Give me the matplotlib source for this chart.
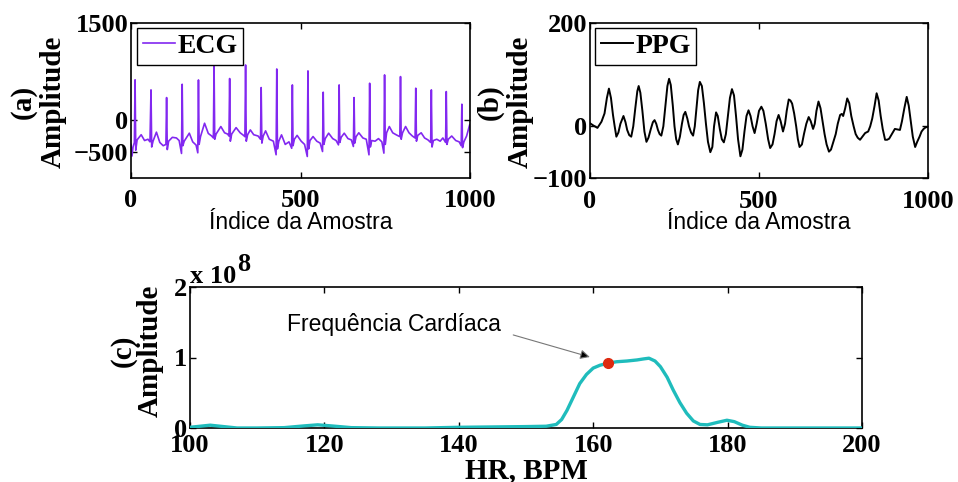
import matplotlib
matplotlib.use("Agg")
import matplotlib.pyplot as plt
import numpy as np

SERIF = "Liberation Serif"
SANS = "Liberation Sans"
plt.rcParams["font.family"] = [SERIF, "DejaVu Serif"]
plt.rcParams["font.weight"] = "bold"
plt.rcParams["axes.labelweight"] = "bold"

# ---------------- data ----------------
ecg_idx = [0, 3, 6, 10,
           12, 14, 18, 30, 40, 50, 56,
           59, 61, 65, 75, 85, 95, 103,
           105, 107, 111, 122, 134, 142, 149,
           151, 153, 157, 172, 182, 192, 197,
           199, 201, 205, 217, 228, 238, 243,
           245, 247, 251, 265, 276, 285, 289,
           291, 293, 297, 310, 322, 332, 336,
           338, 340, 344, 352, 362, 375, 382,
           384, 386, 390, 397, 408, 420, 428,
           430, 432, 436, 444, 455, 466, 474,
           476, 478, 482, 490, 502, 512, 520,
           522, 524, 528, 537, 548, 558, 565,
           567, 569, 573, 583, 595, 605, 612,
           614, 616, 620, 629, 640, 650, 656,
           658, 660, 664, 672, 684, 694, 702,
           704, 706, 710, 720, 730, 740, 746,
           748, 750, 754, 762, 772, 782, 793,
           795, 797, 801, 810, 820, 830, 838,
           840, 842, 846, 856, 866, 876, 884,
           886, 888, 892, 902, 912, 920, 928,
           930, 932, 936, 946, 958, 968, 974,
           976, 978, 982, 990, 999]
ecg_val = [-380, -560, -420, -350,
           620, -470, -310, -230, -320, -300, -340,
           464, -420, -330, -190, -350, -400, -380,
           345, -460, -330, -270, -280, -320, -520,
           551, -400, -330, -206, -340, -390, -510,
           618, -380, -260, -52, -210, -250, -280,
           850, -300, -220, -103, -200, -220, -250,
           640, -330, -220, -120, -200, -240, -260,
           850, -330, -230, -155, -230, -250, -300,
           500, -360, -250, -170, -300, -330, -540,
           788, -450, -330, -232, -380, -340, -440,
           541, -400, -300, -240, -330, -380, -567,
           758, -450, -320, -258, -330, -360, -490,
           428, -380, -290, -206, -290, -320, -387,
           541, -350, -270, -206, -290, -310, -412,
           345, -360, -260, -200, -280, -300, -541,
           567, -420, -320, -330, -290, -340, -515,
           696, -380, -200, -103, -200, -230, -260,
           670, -300, -200, -103, -200, -250, -280,
           490, -330, -240, -200, -280, -310, -350,
           464, -420, -320, -300, -330, -280, -350,
           438, -380, -300, -250, -320, -340, -400,
           242, -430, -340, -250, -77]

ppg_idx = [0, 9, 22, 34, 43, 50, 56, 62, 68, 73, 78, 84, 90, 99, 105, 110, 116, 122,
           128, 134, 140, 144, 149, 155, 161, 167, 173, 180, 186, 191, 196, 201, 206,
           211, 217, 223, 229, 234, 239, 245, 250, 255, 260, 266, 272, 277, 282, 288,
           293, 299, 305, 310, 315, 320, 325, 331, 337, 343, 349, 356, 362, 367, 373,
           378, 384, 390, 396, 402, 408, 414, 420, 426, 432, 438, 445, 451, 457, 463,
           469, 475, 481, 487, 493, 500, 507, 513, 520, 527, 533, 540, 546, 552, 558,
           564, 571, 577, 582, 588, 593, 598, 604, 610, 615, 620, 627, 633, 640, 647,
           653, 660, 665, 670, 676, 682, 688, 694, 700, 707, 713, 720, 727, 733, 740,
           745, 749, 755, 761, 767, 773, 780, 786, 792, 799, 806, 814, 823, 829, 835,
           842, 848, 854, 860, 866, 873, 879, 885, 893, 902, 910, 917, 923, 930, 937,
           943, 949, 955, 962, 968, 975, 981, 987, 993, 999]
ppg_val = [6, 2, -3, 9, 25, 55, 73, 55, 22, 0, -20, -12, 5, 20, 8, -7, -17, -20,
           0, 35, 68, 78, 65, 30, -10, -30, -22, -5, 8, 12, 5, -7, -15,
           -18, 0, 40, 78, 92, 80, 40, 0, -25, -35, -20, 5, 22, 28, 15,
           0, -12, -18, 0, 35, 70, 86, 78, 45, 5, -30, -50, -40, 0, 27,
           20, -5, -25, -31, -15, 20, 55, 72, 60, 20, -25, -58, -45, -10, 20,
           31, 20, 0, -13, 5, 30, 38, 30, 5, -25, -42, -35, -15, 10, 22,
           10, -10, 5, 30, 52, 50, 44, 25, 0, -25, -40, -35, -15, 5, 18,
           10, -5, 5, 30, 48, 35, 10, -15, -35, -49, -45, -30, -15, 5, 22,
           24, 20, 35, 54, 45, 20, 0, -15, -22, -26, -20, -13, -10, 0, 15,
           40, 64, 50, 20, -5, -26, -26, -24, -15, -5, -6, -7, 10, 35, 57,
           40, 10, -20, -40, -30, -20, -10, -5, -2, -1]

hr_bpm = [100, 101, 103, 105, 107, 110, 114, 117, 119, 121, 124, 128, 135, 140, 145,
          150, 153, 154.5, 155.3, 156.1, 157, 158, 159, 160, 161, 162.2, 163.5, 165,
          166.5, 167.5, 168.3, 169.2, 170, 171, 171.9, 172.9, 173.9, 174.9, 175.9,
          177, 178.5, 179.9, 181, 182.2, 183.3, 185, 190, 195, 200]
hr_amp_e8 = [0.01, 0.02, 0.04, 0.02, 0.0, 0.0, 0.005, 0.03, 0.045, 0.03, 0.005, 0.0,
             0.0, 0.01, 0.015, 0.02, 0.025, 0.05, 0.12, 0.25, 0.43, 0.63, 0.76, 0.85,
             0.89, 0.92, 0.94, 0.95, 0.965, 0.98, 0.99, 0.95, 0.87, 0.72, 0.54, 0.36,
             0.21, 0.10, 0.05, 0.045, 0.08, 0.11, 0.09, 0.04, 0.01, 0.0, 0.0, 0.0, 0.0]
hr_peak_bpm = 162.2
hr_peak_amp_e8 = 0.92
AMP_SCALE = 1e8

ecg_ticks = [0, 500, 1000]
ecg_yticks = [-500, 0, 1500]
ppg_yticks = [-100, 0, 200]
hr_xticks = [100, 120, 140, 160, 180, 200]
hr_yticks_e8 = [0, 1, 2]

# ---------------- figure ----------------
W, H = 958, 482
fig = plt.figure(figsize=(W / 100, H / 100), dpi=100)


def px_axes(l, t, r, b):
    return fig.add_axes([l / W, 1 - b / H, (r - l) / W, (b - t) / H])


def style(ax, xpad):
    for s in ax.spines.values():
        s.set_linewidth(1.2)
    ax.tick_params(direction="in", top=True, right=True, length=4, width=1,
                   labelsize=19)
    ax.tick_params(axis="x", pad=xpad)
    ax.tick_params(axis="y", pad=2)


# (a) ECG
axa = px_axes(131, 23, 470, 178)
axa.plot(ecg_idx, ecg_val, color="#8228f0", lw=1.2, label="ECG")
axa.set_xlim(0, 1000)
axa.set_ylim(-900, 1500)
axa.set_xticks(ecg_ticks)
axa.set_yticks(ecg_yticks)
style(axa, 8)
axa.set_ylabel("(a)\nAmplitude", fontsize=21, linespacing=1.15)
axa.yaxis.set_label_coords(-0.19, 0.49)
axa.set_xlabel("Índice da Amostra", fontsize=16.5, family=SANS, weight="normal",
               va="top")
axa.xaxis.set_label_coords(0.5, -0.215)
leg = axa.legend(loc="upper left", bbox_to_anchor=(0.018, 0.968), borderaxespad=0,
                 fancybox=False, edgecolor="black", framealpha=1,
                 handlelength=1.15, handletextpad=0.1, borderpad=0.2,
                 prop=dict(family=SERIF, weight="bold", size=20))
leg.get_frame().set_linewidth(1.0)

# (b) PPG
axb = px_axes(590, 23, 928, 178)
axb.plot(ppg_idx, ppg_val, color="black", lw=1.4, label="PPG")
axb.set_xlim(0, 1000)
axb.set_ylim(-100, 200)
axb.set_xticks(ecg_ticks)
axb.set_yticks(ppg_yticks)
style(axb, 9)
axb.set_ylabel("(b)\nAmplitude", fontsize=21, linespacing=1.15)
axb.yaxis.set_label_coords(-0.165, 0.49)
axb.set_xlabel("Índice da Amostra", fontsize=16.5, family=SANS, weight="normal",
               va="top")
axb.xaxis.set_label_coords(0.5, -0.215)
leg = axb.legend(loc="upper left", bbox_to_anchor=(0.015, 0.968), borderaxespad=0,
                 fancybox=False, edgecolor="black", framealpha=1,
                 handlelength=1.15, handletextpad=0.1, borderpad=0.2,
                 prop=dict(family=SERIF, weight="bold", size=20))
leg.get_frame().set_linewidth(1.0)

# (c) HR spectrum
axc = px_axes(190, 287, 862, 428)
hr_amp = np.array(hr_amp_e8) * AMP_SCALE
axc.plot(hr_bpm, hr_amp, color="#1fbcbc", lw=2.4, zorder=3)
axc.plot([hr_peak_bpm], [hr_peak_amp_e8 * AMP_SCALE], "o", color="#dd2a10",
         ms=7, zorder=4)
axc.set_xlim(100, 200)
axc.set_ylim(0, 2 * AMP_SCALE)
axc.set_xticks(hr_xticks)
axc.set_yticks([v * AMP_SCALE for v in hr_yticks_e8])
axc.set_yticklabels([str(v) for v in hr_yticks_e8])
style(axc, 4)
axc.set_ylabel("(c)\nAmplitude", fontsize=21, linespacing=1.0)
axc.yaxis.set_label_coords(-0.039, 0.55)
axc.set_xlabel("HR, BPM", fontsize=21, va="top")
axc.xaxis.set_label_coords(0.5, -0.205)

fig.text(190 / W, 1 - 283 / H, "x 10", fontsize=19, ha="left", va="baseline")
fig.text(237 / W, 1 - 271 / H, "8", fontsize=19, ha="left", va="baseline")

axc.text(114.4, 1.475 * AMP_SCALE, "Frequência Cardíaca", family=SANS,
         weight="normal", fontsize=16.5, ha="left", va="center")
axc.annotate("", xy=(159.5, 1.007 * AMP_SCALE), xytext=(148.1, 1.32 * AMP_SCALE),
             arrowprops=dict(arrowstyle="-|>", lw=0.8, ec="#777777", fc="black",
                             mutation_scale=14, shrinkA=0, shrinkB=0))

fig.savefig("out.png", dpi=100)
